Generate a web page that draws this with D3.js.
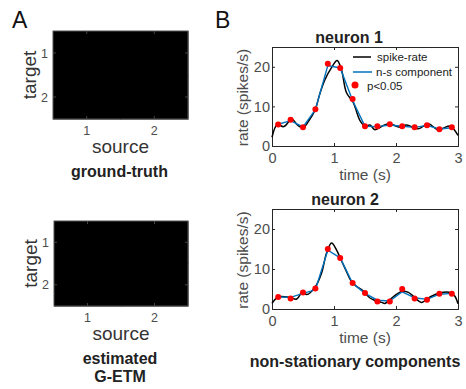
<!DOCTYPE html>
<html>
<head>
<meta charset="utf-8">
<script src="https://cdn.jsdelivr.net/npm/d3@7"></script>
<style>
  body { margin: 0; background: #fff; }
  svg { font-family: "Liberation Sans", Arial, sans-serif; }
</style>
</head>
<body>
<div id="chart"></div>
<script>
// connectivity matrices (target x source), all zero -> black
const units = [1, 2];
const groundTruth = [[0, 0], [0, 0]];
const estimated = [[0, 0], [0, 0]];

// time bins of the non-stationary component (s)
const binTimes = [0.1, 0.3, 0.5, 0.7, 0.9, 1.1, 1.3, 1.5, 1.7, 1.9, 2.1, 2.3, 2.5, 2.7, 2.9];

// neuron 1
const n1Component = [5.5, 6.4, 4.8, 9.2, 20.3, 19.7, 11.5, 5.0, 4.9, 5.3, 5.0, 4.7, 5.2, 4.3, 4.6];
const n1Signif = [5.4, 6.6, 4.75, 9.25, 20.75, 19.7, 11.9, 5.0, 5.0, 5.5, 5.0, 4.75, 5.25, 4.25, 4.75];
const n1RateT = [0, 0.085, 0.19, 0.32, 0.41, 0.5, 0.6, 0.7, 0.77, 0.855, 0.96, 1.05, 1.12, 1.2, 1.31, 1.42, 1.5, 1.58, 1.66, 1.8, 1.9, 2.06, 2.17, 2.36, 2.52, 2.68, 2.87, 3.0];
const n1RateV = [2.2, 5.4, 4.9, 6.8, 5.3, 4.6, 6.5, 9.3, 13.1, 16.8, 19.8, 21.6, 19.3, 13.5, 11.0, 6.4, 5.0, 5.3, 4.1, 5.2, 5.6, 4.75, 5.3, 4.35, 5.6, 4.1, 5.0, 2.7];

// neuron 2
const n2Component = [3.0, 2.9, 3.9, 4.8, 14.7, 12.8, 6.4, 3.9, 2.2, 2.0, 4.3, 2.8, 2.4, 3.7, 3.9];
const n2Signif = [3.0, 2.65, 4.15, 5.1, 15.0, 12.75, 6.5, 4.0, 1.9, 1.9, 5.0, 2.6, 2.3, 3.8, 3.8];
const n2RateT = [0, 0.1, 0.28, 0.4, 0.49, 0.56, 0.7, 0.8, 0.88, 0.96, 1.04, 1.1, 1.2, 1.28, 1.37, 1.45, 1.58, 1.65, 1.77, 1.82, 1.96, 2.09, 2.2, 2.3, 2.41, 2.55, 2.7, 2.88, 2.95, 3.0];
const n2RateV = [1.4, 3.0, 2.9, 2.5, 4.3, 3.6, 5.6, 9.0, 14.0, 16.5, 14.8, 12.75, 9.4, 6.9, 5.6, 4.8, 2.75, 2.2, 1.65, 1.4, 3.1, 4.4, 4.15, 2.9, 1.65, 3.0, 4.0, 4.1, 3.2, 1.3];

const timeTicks = [0, 1, 2, 3];
const rateTicks = [0, 10, 20];

const W = 466, H = 389;
const axisCol = "#262626", tickCol = "#4d4d4d";

const svg = d3.select("#chart").append("svg")
  .attr("width", W).attr("height", H);

svg.append("text").attr("x", 12).attr("y", 28).attr("font-size", 23).attr("fill", "#111").text("A");
svg.append("text").attr("x", 215).attr("y", 28).attr("font-size", 23).attr("fill", "#111").text("B");

function heatmap(box, matrix, captions) {
  const {x0, x1, y0, y1} = box;
  const x = d3.scaleBand().domain(units).range([x0, x1]);
  const y = d3.scaleBand().domain(units).range([y0, y1]);
  const color = d3.scaleLinear().domain([0, 1]).range(["#000", "#fff"]);
  const g = svg.append("g");
  const cells = [];
  matrix.forEach((row, i) => row.forEach((v, j) => cells.push({t: units[i], s: units[j], v})));
  g.selectAll("rect.cell").data(cells).enter().append("rect")
    .attr("class", "cell")
    .attr("x", d => x(d.s)).attr("y", d => y(d.t))
    .attr("width", x.bandwidth() + 0.5).attr("height", y.bandwidth() + 0.5)
    .attr("fill", d => color(d.v));
  g.append("rect").attr("x", x0).attr("y", y0).attr("width", x1 - x0).attr("height", y1 - y0)
    .attr("fill", "none").attr("stroke", "#555").attr("stroke-width", 1);

  // inward ticks
  units.forEach(u => {
    const cx = x(u) + x.bandwidth() / 2, cy = y(u) + y.bandwidth() / 2;
    g.append("line").attr("x1", cx).attr("x2", cx).attr("y1", y1).attr("y2", y1 - 3).attr("stroke", "#444");
    g.append("line").attr("x1", cx).attr("x2", cx).attr("y1", y0).attr("y2", y0 + 3).attr("stroke", "#444");
    g.append("line").attr("x1", x0).attr("x2", x0 + 3).attr("y1", cy).attr("y2", cy).attr("stroke", "#444");
    g.append("line").attr("x1", x1).attr("x2", x1 - 3).attr("y1", cy).attr("y2", cy).attr("stroke", "#444");
    g.append("text").attr("x", cx).attr("y", y1 + 16).attr("text-anchor", "middle")
      .attr("font-size", 12.5).attr("fill", tickCol).text(u);
    g.append("text").attr("x", x0 - 5).attr("y", cy + 4.5).attr("text-anchor", "end")
      .attr("font-size", 12.5).attr("fill", tickCol).text(u);
  });
  g.append("text").attr("transform", `translate(${x0 - 17},${(y0 + y1) / 2}) rotate(-90)`)
    .attr("text-anchor", "middle").attr("font-size", 19).attr("fill", "#333").text("target");
  g.append("text").attr("x", (x0 + x1) / 2).attr("y", y1 + 34).attr("text-anchor", "middle")
    .attr("font-size", 19).attr("fill", "#333").text("source");
  captions.forEach((c, i) => {
    g.append("text").attr("x", (x0 + x1) / 2 - 1).attr("y", y1 + 58 + i * 18).attr("text-anchor", "middle")
      .attr("font-size", 16).attr("font-weight", "bold").attr("fill", "#222").text(c);
  });
}

heatmap({x0: 53, x1: 188, y0: 31, y1: 119}, groundTruth, ["ground-truth"]);
heatmap({x0: 54, x1: 188, y0: 221, y1: 306}, estimated, ["estimated", "G-ETM"]);

function ratePanel(box, title, titleX, rateT, rateV, comp, signif, legend) {
  const {x0, x1, y0, y1} = box;
  const x = d3.scaleLinear().domain([0, 3]).range([x0, x1]);
  const y = d3.scaleLinear().domain([0, 25]).range([y1, y0]);
  const g = svg.append("g");

  const xAxis = g.append("g").attr("transform", `translate(0,${y1})`)
    .call(d3.axisBottom(x).tickValues(timeTicks).tickSize(-3).tickPadding(7).tickFormat(d3.format("d")));
  const xTop = g.append("g").attr("transform", `translate(0,${y0})`)
    .call(d3.axisTop(x).tickValues(timeTicks).tickSize(-3).tickFormat(""));
  const yAxis = g.append("g").attr("transform", `translate(${x0},0)`)
    .call(d3.axisLeft(y).tickValues(rateTicks).tickSize(-3).tickPadding(2));
  const yRight = g.append("g").attr("transform", `translate(${x1},0)`)
    .call(d3.axisRight(y).tickValues(rateTicks).tickSize(-3).tickFormat(""));
  [xAxis, xTop, yAxis, yRight].forEach(a => {
    a.select(".domain").attr("stroke", axisCol).attr("stroke-width", 1);
    a.selectAll(".tick line").attr("stroke", axisCol);
    a.selectAll(".tick text").attr("font-size", 14.5).attr("fill", tickCol)
      .attr("font-family", "Liberation Sans, Arial, sans-serif");
  });

  const rate = rateT.map((t, i) => [t, rateV[i]]);
  g.append("path").datum(rate)
    .attr("d", d3.line().x(d => x(d[0])).y(d => y(d[1])).curve(d3.curveCatmullRom.alpha(0.5)))
    .attr("fill", "none").attr("stroke", "#000").attr("stroke-width", 1.5);

  g.append("path").datum(binTimes.map((t, i) => [t, comp[i]]))
    .attr("d", d3.line().x(d => x(d[0])).y(d => y(d[1])))
    .attr("fill", "none").attr("stroke", "#0072BD").attr("stroke-width", 1.4);

  g.selectAll("circle.sig").data(binTimes.map((t, i) => [t, signif[i]])).enter().append("circle")
    .attr("class", "sig")
    .attr("cx", d => x(d[0])).attr("cy", d => y(d[1])).attr("r", 3).attr("fill", "#ff0000");

  g.append("text").attr("x", titleX).attr("y", y0 - 4).attr("text-anchor", "middle")
    .attr("font-size", 16).attr("font-weight", "bold").attr("fill", "#222").text(title);
  g.append("text").attr("x", (x0 + x1) / 2).attr("y", y1 + 34).attr("text-anchor", "middle")
    .attr("font-size", 15.5).attr("fill", tickCol).text("time (s)");
  g.append("text").attr("transform", `translate(${x0 - 24},${(y0 + y1) / 2 + 1}) rotate(-90)`)
    .attr("text-anchor", "middle").attr("font-size", 15.5).attr("fill", tickCol).text("rate (spikes/s)");

  if (legend) {
    const lg = g.append("g").attr("font-size", 11.5).attr("fill", "#222");
    lg.append("line").attr("x1", 353).attr("x2", 371).attr("y1", 57).attr("y2", 57)
      .attr("stroke", "#000").attr("stroke-width", 1.5);
    lg.append("text").attr("x", 377).attr("y", 61).text("spike-rate");
    lg.append("line").attr("x1", 353).attr("x2", 372).attr("y1", 72).attr("y2", 72)
      .attr("stroke", "#0072BD").attr("stroke-width", 1.5);
    lg.append("text").attr("x", 376).attr("y", 76).text("n-s component");
    lg.append("circle").attr("cx", 355).attr("cy", 85).attr("r", 3.5).attr("fill", "#ff0000");
    lg.append("text").attr("x", 367).attr("y", 90).text("p<0.05");
  }
}

ratePanel({x0: 272, x1: 458, y0: 47, y1: 146}, "neuron 1", 349, n1RateT, n1RateV, n1Component, n1Signif, true);
ratePanel({x0: 272, x1: 458, y0: 209, y1: 309}, "neuron 2", 345, n2RateT, n2RateV, n2Component, n2Signif, false);

svg.append("text").attr("x", 355).attr("y", 367).attr("text-anchor", "middle")
  .attr("font-size", 16).attr("font-weight", "bold").attr("fill", "#222").text("non-stationary components");
</script>
</body>
</html>
